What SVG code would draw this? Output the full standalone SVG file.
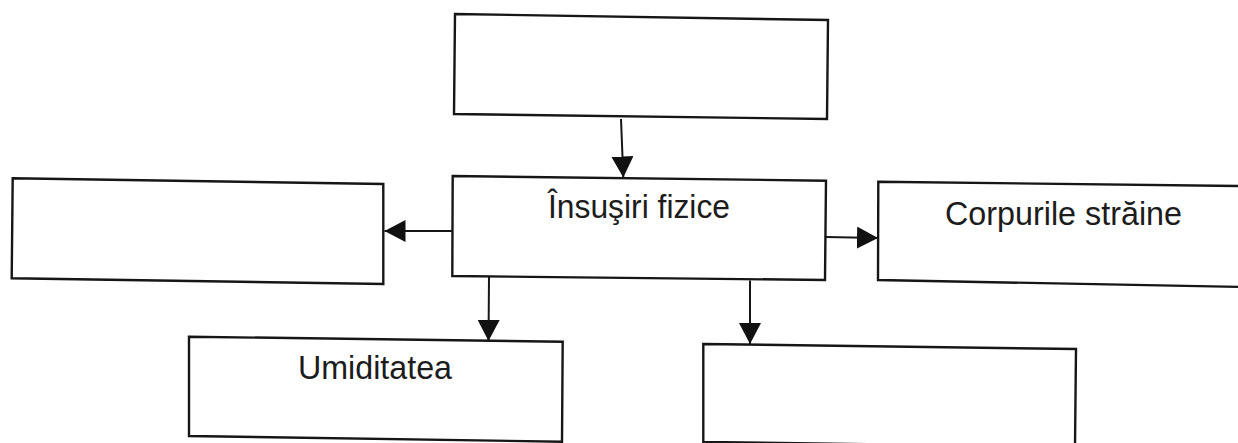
<svg xmlns="http://www.w3.org/2000/svg" width="1238" height="443" viewBox="0 0 1238 443">
  <style>
    .box { fill: #ffffff; stroke: #161616; stroke-width: 2.4; stroke-linejoin: miter; }
    .lbl { font-family: "Liberation Sans", Arial, sans-serif; font-size: 33px; fill: #1c1c1c; }
    .conn { stroke: #161616; stroke-width: 2; fill: none; marker-end: url(#arrow); }
  </style>
  <defs>
    <marker id="arrow" markerUnits="userSpaceOnUse" markerWidth="22" markerHeight="22" refX="21" refY="11" orient="auto">
      <path d="M0,0 L21,11 L0,22 z" fill="#111111"/>
    </marker>
  </defs>
  <rect x="0" y="0" width="1238" height="443" fill="#ffffff"/>

  <!-- top (empty) box -->
  <g id="node-top">
    <polygon class="box" points="455,14 828,20 827,119 454,114"/>
  </g>

  <!-- central box -->
  <g id="node-insusiri">
    <polygon class="box" points="452.7,176 826,180.7 825,280 452.3,276"/>
    <text class="lbl" x="548" y="218" textLength="182" lengthAdjust="spacingAndGlyphs">Însuşiri fizice</text>
  </g>

  <!-- left (empty) box -->
  <g id="node-left">
    <polygon class="box" points="12.7,178.3 383.3,184 383.3,284 11.7,278.3"/>
  </g>

  <!-- right box -->
  <g id="node-corpurile">
    <polygon class="box" points="878.3,181.7 1242,186 1242,287 878,280"/>
    <text class="lbl" x="945" y="225" textLength="237" lengthAdjust="spacingAndGlyphs">Corpurile străine</text>
  </g>

  <!-- bottom-left box -->
  <g id="node-umiditatea">
    <polygon class="box" points="189,336.7 562.7,341.7 562,441.7 189,436"/>
    <text class="lbl" x="298" y="379" textLength="154" lengthAdjust="spacingAndGlyphs">Umiditatea</text>
  </g>

  <!-- bottom-right (empty) box -->
  <g id="node-bottom-right">
    <polygon class="box" points="703.3,344 1076,349 1075,447 703.3,442"/>
  </g>

  <!-- connectors -->
  <g id="connectors">
    <line class="conn" x1="621" y1="119" x2="623.3" y2="177.5"/>
    <line class="conn" x1="452.5" y1="231" x2="384.5" y2="231"/>
    <line class="conn" x1="826" y1="237" x2="878" y2="238"/>
    <line class="conn" x1="489" y1="277" x2="488.5" y2="341"/>
    <line class="conn" x1="750" y1="280.5" x2="750" y2="344"/>
  </g>
</svg>
